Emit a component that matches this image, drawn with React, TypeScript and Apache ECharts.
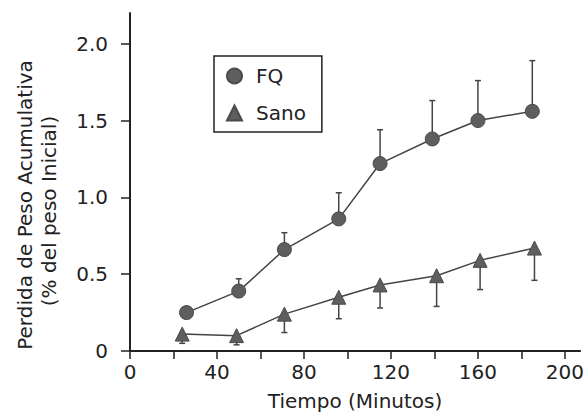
import React, { useEffect, useRef } from "react";
import * as echarts from "echarts";

const fqX = [26, 50, 71, 96, 115, 139, 160, 185];
const fqY = [0.25, 0.39, 0.66, 0.86, 1.22, 1.38, 1.5, 1.56];
const fqUpper = [0.27, 0.47, 0.77, 1.03, 1.44, 1.63, 1.76, 1.89];

const sanoX = [24, 49, 71, 96, 115, 141, 161, 186];
const sanoY = [0.11, 0.1, 0.24, 0.35, 0.43, 0.49, 0.59, 0.67];
const sanoLower = [0.05, 0.04, 0.12, 0.21, 0.28, 0.29, 0.4, 0.46];

const xLabelValues = [0, 40, 80, 120, 160, 200];
const xTickValues = [0, 20, 40, 60, 80, 100, 120, 140, 160, 180, 200];
const yTickValues = [0, 0.5, 1, 1.5, 2];

const yTitle1 = "Perdida de Peso Acumulativa";
const yTitle2 = "(% del peso Inicial)";

const FONT = "DejaVu Sans, Verdana, sans-serif";
const INK = "#222";
const MARK = "#5e5e5e";
const LINE = "#444";

function errRender(params: any, api: any) {
  const x = api.value(0);
  const y1 = api.value(1);
  const y2 = api.value(2);
  const p1 = api.coord([x, y1]);
  const p2 = api.coord([x, y2]);
  const style = { stroke: LINE, lineWidth: 1.5 };
  return {
    type: "group",
    children: [
      { type: "line", shape: { x1: p1[0], y1: p1[1], x2: p2[0], y2: p2[1] }, style },
      { type: "line", shape: { x1: p2[0] - 3, y1: p2[1], x2: p2[0] + 3, y2: p2[1] }, style },
    ],
  };
}

export default function App() {
  const ref = useRef<HTMLDivElement>(null);
  useEffect(() => {
    if (!ref.current) return;
    const chart = echarts.init(ref.current, undefined, { renderer: "svg" });
    chart.setOption({
      animation: false,
      backgroundColor: "#fff",
      textStyle: { fontFamily: FONT, color: INK },
      grid: { left: 130, top: 13, right: 0, bottom: 65 },
      graphic: [
        {
          type: "text",
          x: 25,
          y: 205,
          rotation: Math.PI / 2,
          style: {
            text: yTitle1,
            fontFamily: FONT,
            fontSize: 20,
            fill: INK,
            align: "center",
            verticalAlign: "middle",
          },
        },
        {
          type: "text",
          x: 49,
          y: 211,
          rotation: Math.PI / 2,
          style: {
            text: yTitle2,
            fontFamily: FONT,
            fontSize: 20,
            fill: INK,
            align: "center",
            verticalAlign: "middle",
          },
        },
      ],
      legend: {
        left: 214,
        top: 56,
        orient: "vertical",
        itemWidth: 15,
        itemHeight: 15,
        itemGap: 17,
        padding: [10, 16, 9, 12],
        borderColor: INK,
        borderWidth: 1.5,
        textStyle: { fontFamily: FONT, fontSize: 20, color: INK, padding: [0, 0, 0, 9] },
        data: [
          { name: "FQ", icon: "circle" },
          { name: "Sano", icon: "triangle" },
        ],
      },
      xAxis: {
        type: "value",
        min: 0,
        max: 207,
        splitLine: { show: false },
        axisLine: { show: true, lineStyle: { color: INK, width: 2 } },
        axisTick: { show: true, length: 8, customValues: xTickValues, lineStyle: { color: INK, width: 1.5 } },
        axisLabel: {
          customValues: xLabelValues,
          fontSize: 20,
          color: INK,
          fontFamily: FONT,
          margin: 11,
        },
        name: "Tiempo (Minutos)",
        nameLocation: "middle",
        nameGap: 40,
        nameTextStyle: { fontSize: 20, color: INK, fontFamily: FONT },
      },
      yAxis: {
        type: "value",
        min: 0,
        max: 2.2,
        splitLine: { show: false },
        axisLine: { show: true, lineStyle: { color: INK, width: 2 } },
        axisTick: { show: true, length: 9, customValues: yTickValues, lineStyle: { color: INK, width: 1.5 } },
        axisLabel: {
          customValues: yTickValues,
          fontSize: 20,
          color: INK,
          fontFamily: FONT,
          margin: 22,
          formatter: (v: number) => (v === 0 ? "0" : v.toFixed(1)),
        },
      },
      series: [
        {
          type: "custom",
          name: "fqErr",
          renderItem: errRender,
          data: fqX.map((x, i) => [x, fqY[i], fqUpper[i]]),
          z: 1,
          silent: true,
        },
        {
          type: "custom",
          name: "sanoErr",
          renderItem: errRender,
          data: sanoX.map((x, i) => [x, sanoY[i], sanoLower[i]]),
          z: 1,
          silent: true,
        },
        {
          type: "line",
          name: "FQ",
          data: fqX.map((x, i) => [x, fqY[i]]),
          symbol: "circle",
          symbolSize: 14,
          lineStyle: { color: LINE, width: 1.5 },
          itemStyle: { color: MARK, borderColor: "#4a4a4a", borderWidth: 1 },
          z: 3,
        },
        {
          type: "line",
          name: "Sano",
          data: sanoX.map((x, i) => [x, sanoY[i]]),
          symbol: "triangle",
          symbolSize: 14,
          lineStyle: { color: LINE, width: 1.5 },
          itemStyle: { color: MARK, borderColor: "#4a4a4a", borderWidth: 1 },
          z: 3,
        },
      ],
    });
    return () => chart.dispose();
  }, []);
  return <div ref={ref} style={{ width: 587, height: 416, position: "absolute", left: 0, top: 0 }} />;
}
